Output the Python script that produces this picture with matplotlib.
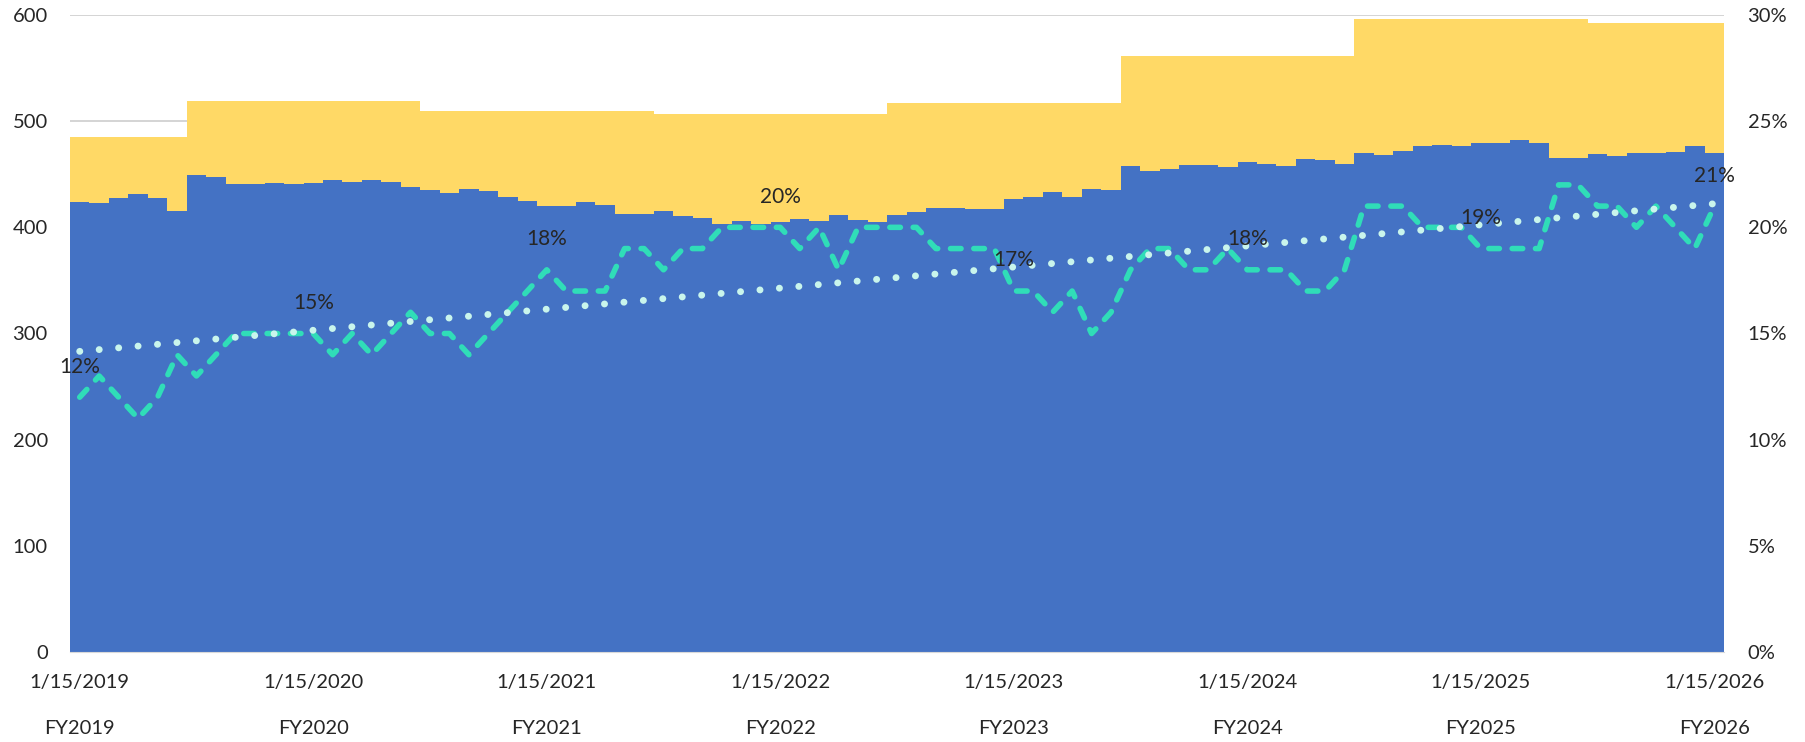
import numpy as np
import matplotlib.pyplot as plt
from matplotlib.ticker import FuncFormatter

plt.rcParams['font.family'] = ['Lato', 'DejaVu Sans']

# monthly values, Jan 2019 .. Jan 2026
monthly = [424, 423, 428, 431, 428, 415,
           449, 447, 441, 441, 442, 441, 442, 445, 443, 445, 443, 438,
           435, 432, 436, 434, 429, 425, 420, 420, 424, 421, 413, 413,
           415, 411, 409, 403, 406, 403, 405, 408, 406, 412, 407, 405,
           412, 414, 418, 418, 417, 417, 427, 429, 433, 429, 436, 435,
           458, 453, 455, 459, 459, 457, 462, 460, 458, 464, 463, 460,
           470, 468, 472, 477, 478, 477, 479, 479, 482, 479, 465, 465,
           469, 467, 470, 470, 471, 477, 470]

# fiscal year totals and number of months of each FY shown
fy_names = ['FY2019', 'FY2020', 'FY2021', 'FY2022', 'FY2023', 'FY2024', 'FY2025', 'FY2026']
fy_totals = [485, 519, 510, 507, 517, 561, 596, 592]
fy_months = [6, 12, 12, 12, 12, 12, 12, 7]

# percentage (secondary axis)
pct = [12, 13, 12, 11, 12, 14,
       13, 14, 15, 15, 15, 15, 15, 14, 15, 14, 15, 16,
       15, 15, 14, 15, 16, 17, 18, 17, 17, 17, 19, 19,
       18, 19, 19, 20, 20, 20, 20, 19, 20, 18, 20, 20,
       20, 20, 19, 19, 19, 19, 17, 17, 16, 17, 15, 16,
       18, 19, 19, 18, 18, 19, 18, 18, 18, 17, 17, 18,
       21, 21, 21, 20, 20, 20, 19, 19, 19, 19, 22, 22,
       21, 21, 20, 21, 20, 19, 21]

date_labels = ['1/15/2019', '1/15/2020', '1/15/2021', '1/15/2022',
               '1/15/2023', '1/15/2024', '1/15/2025', '1/15/2026']

BLUE = '#4472C4'
YELLOW = '#FFD966'
TEAL = '#30DDB8'
DOTS = '#C9F5EC'
TXT = '#262626'

n = len(monthly)
x = np.arange(n)
blue = np.array(monthly, dtype=float)
total = np.repeat(fy_totals, fy_months).astype(float)
pct_arr = np.array(pct) / 100.0

fig = plt.figure(figsize=(18.06, 7.42), dpi=100)
ax = fig.add_axes([70 / 1806, 1 - 652 / 742, 1654 / 1806, 637 / 742])

ax.bar(x, blue, width=1.0, color=BLUE, linewidth=0, zorder=2)
ax.bar(x, total - blue, bottom=blue, width=1.0, color=YELLOW, linewidth=0, zorder=2)

ax.set_xlim(-0.5, n - 0.5)
ax.set_ylim(0, 600)
ax.set_yticks(np.arange(0, 601, 100))
ax.yaxis.grid(True, color='#D4D4D4', linewidth=1.4)
ax.set_axisbelow(True)
for s in ['top', 'right', 'left']:
    ax.spines[s].set_visible(False)
ax.spines['bottom'].set_color('#D9D9D9')
ax.spines['bottom'].set_zorder(3)
ax.tick_params(axis='y', length=0, pad=16, labelsize=14.5, labelcolor=TXT)

tick_pos = x[::12]
ax.set_xticks(tick_pos)
ax.set_xticklabels([f'{d}\n\n{f}' for d, f in zip(date_labels, fy_names)],
                   linespacing=1.42)
ax.tick_params(axis='x', length=0, pad=16, labelsize=14.5, labelcolor=TXT)

ax2 = ax.twinx()
ax2.set_ylim(0, 0.30)
ax2.set_yticks(np.arange(0, 0.301, 0.05))
ax2.yaxis.set_major_formatter(FuncFormatter(lambda v, p: f'{v * 100:.0f}%'))
for s in ax2.spines.values():
    s.set_visible(False)
ax2.tick_params(axis='y', length=0, pad=17, labelsize=14.5, labelcolor=TXT)

ax2.plot(x, pct_arr, color=TEAL, linewidth=4.0, linestyle=(0, (1.9, 2.3)),
         dash_capstyle='round', solid_capstyle='round', zorder=3)

# linear trend of the percentage
k, b = np.polyfit(x, pct_arr, 1)
ax2.plot(x, k * x + b, color=DOTS, linewidth=5.0, linestyle=(0, (0.01, 2.8)),
         dash_capstyle='round', zorder=4)

for i in tick_pos:
    ax2.annotate(f'{pct[i]}%', (i, pct_arr[i]), xytext=(0, 22),
                 textcoords='offset points', ha='center', va='center',
                 fontsize=15, color=TXT, zorder=5)

fig.savefig('out.png', dpi=100)
